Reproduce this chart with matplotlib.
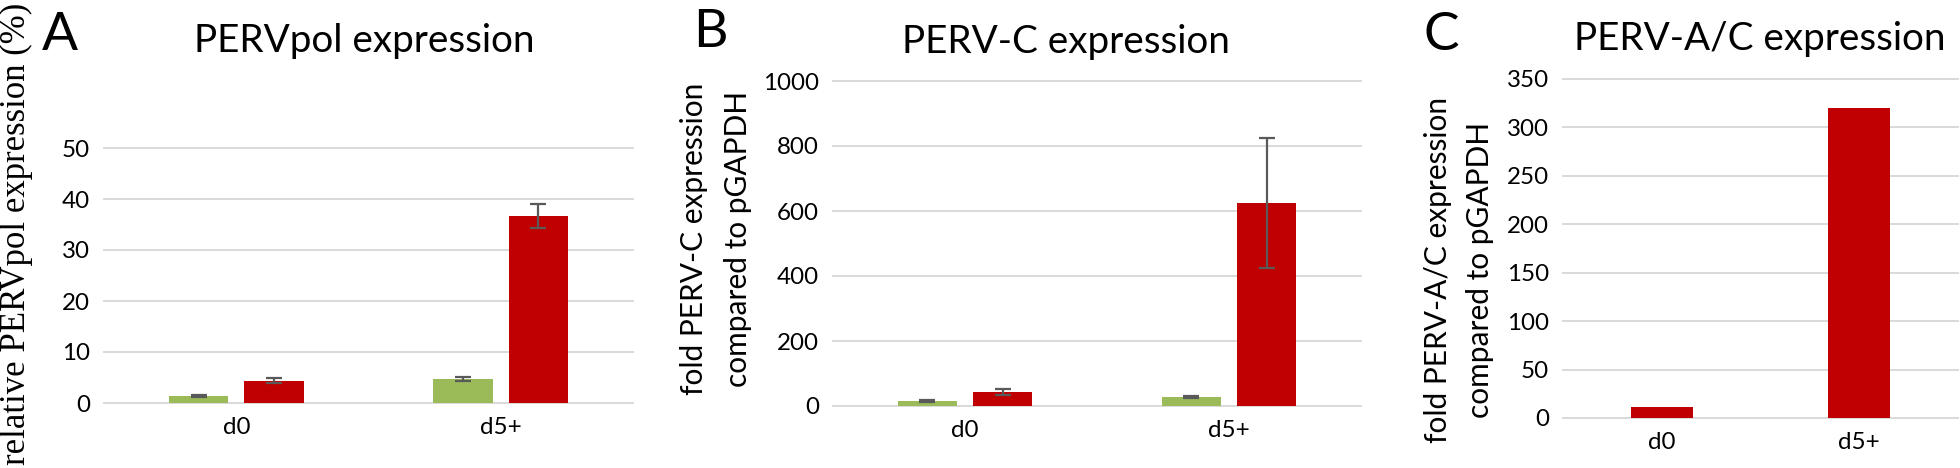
import matplotlib
matplotlib.use("Agg")
import matplotlib.pyplot as plt
import numpy as np

plt.rcParams['font.family'] = ['Lato', 'DejaVu Sans']

# ---- data ----
categories = ["d0", "d5+"]

a_green = [1.3, 4.7]
a_green_err = [0.2, 0.4]
a_red = [4.4, 36.7]
a_red_err = [0.55, 2.3]
a_ticks = [0, 10, 20, 30, 40, 50]

b_green = [15, 27]
b_green_err = [4, 3]
b_red = [43, 625]
b_red_err = [9, 200]
b_ticks = [0, 200, 400, 600, 800, 1000]

c_red = [11.3, 320]
c_ticks = [0, 50, 100, 150, 200, 250, 300, 350]

GREEN = "#9BBB59"
RED = "#C00000"
GRID = "#D9D9D9"
ERR = "#595959"

W, H = 1960, 468
fig = plt.figure(figsize=(W / 100, H / 100), dpi=100)
renderer = fig.canvas.get_renderer()


def fit_size(s, target_px, base=20, **kw):
    t = fig.text(0, 0, s, fontsize=base, **kw)
    w = t.get_window_extent(renderer=renderer).width
    t.remove()
    return base * target_px / w


TICK_FS = fit_size("350", 42)


def px_axes(x0, y_top, x1, y_bot):
    return fig.add_axes([x0 / W, 1 - y_bot / H, (x1 - x0) / W, (y_bot - y_top) / H])


def style(ax, ticks):
    ax.set_xlim(-0.5, 1.5)
    ax.set_ylim(ticks[0], ticks[-1])
    ax.set_yticks(ticks)
    ax.set_yticklabels([str(t) for t in ticks])
    ax.set_xticks(range(len(categories)))
    ax.set_xticklabels(categories)
    for s in ax.spines.values():
        s.set_visible(False)
    ax.tick_params(axis='both', length=0, labelsize=TICK_FS, colors='black')
    ax.tick_params(axis='y', pad=10)
    ax.tick_params(axis='x', pad=10)
    ax.yaxis.grid(True, color=GRID, linewidth=1.4)
    ax.set_axisbelow(True)
    for gl in ax.get_ygridlines():
        gl.set_clip_on(False)


x = np.arange(len(categories))
bw = 0.225
off = 0.1425
ekw = dict(ecolor=ERR, elinewidth=1.6, capsize=5.5, capthick=1.6)

# ---- Panel A ----
axA = px_axes(104, 148, 633, 403)
style(axA, a_ticks)
axA.bar(x - off, a_green, bw, color=GREEN, yerr=a_green_err, error_kw=ekw)
axA.bar(x + off, a_red, bw, color=RED, yerr=a_red_err, error_kw=ekw)

# ---- Panel B ----
axB = px_axes(833, 81, 1361, 406)
style(axB, b_ticks)
axB.bar(x - off, b_green, bw, color=GREEN, yerr=b_green_err, error_kw=ekw)
axB.bar(x + off, b_red, bw, color=RED, yerr=b_red_err, error_kw=ekw)

# ---- Panel C ----
axC = px_axes(1563, 78.5, 1958, 418)
style(axC, c_ticks)
axC.bar(x, c_red, 0.314, color=RED)


# ---- titles & letters ----
def ftext(xp, yp, s, **kw):
    return fig.text(xp / W, 1 - yp / H, s, **kw)


titles = [("PERVpol expression", 364, 52, 345),
          ("PERV-C expression", 1066, 53, 325),
          ("PERV-A/C expression", 1760, 50, 371)]
title_fs = np.mean([fit_size(s, w) for s, _, _, w in titles])
for s, xp, yp, _ in titles:
    ftext(xp, yp, s, ha='center', va='baseline', fontsize=title_fs)

letter_fs = fit_size("A", 36)
ftext(42, 50, "A", ha='left', va='baseline', fontsize=letter_fs)
ftext(693, 47, "B", ha='left', va='baseline', fontsize=letter_fs)
ftext(1423, 50, "C", ha='left', va='baseline', fontsize=letter_fs)

# ---- y labels ----
serif = ['Liberation Serif', 'DejaVu Serif']
ftext(16, 234, "relative PERVpol expression (%)", rotation=90, ha='center', va='center',
      fontsize=25, family=serif)
ylab_fs = np.mean([fit_size("fold PERV-C expression", 312),
                   fit_size("fold PERV-A/C expression", 347)])
ftext(716, 239, "fold PERV-C expression\ncompared to pGAPDH", rotation=90, ha='center',
      va='center', fontsize=ylab_fs, linespacing=1.68, multialignment='center')
ftext(1459, 270, "fold PERV-A/C expression\ncompared to pGAPDH", rotation=90, ha='center',
      va='center', fontsize=ylab_fs, linespacing=1.58, multialignment='center')

fig.savefig("out.png", dpi=100)
